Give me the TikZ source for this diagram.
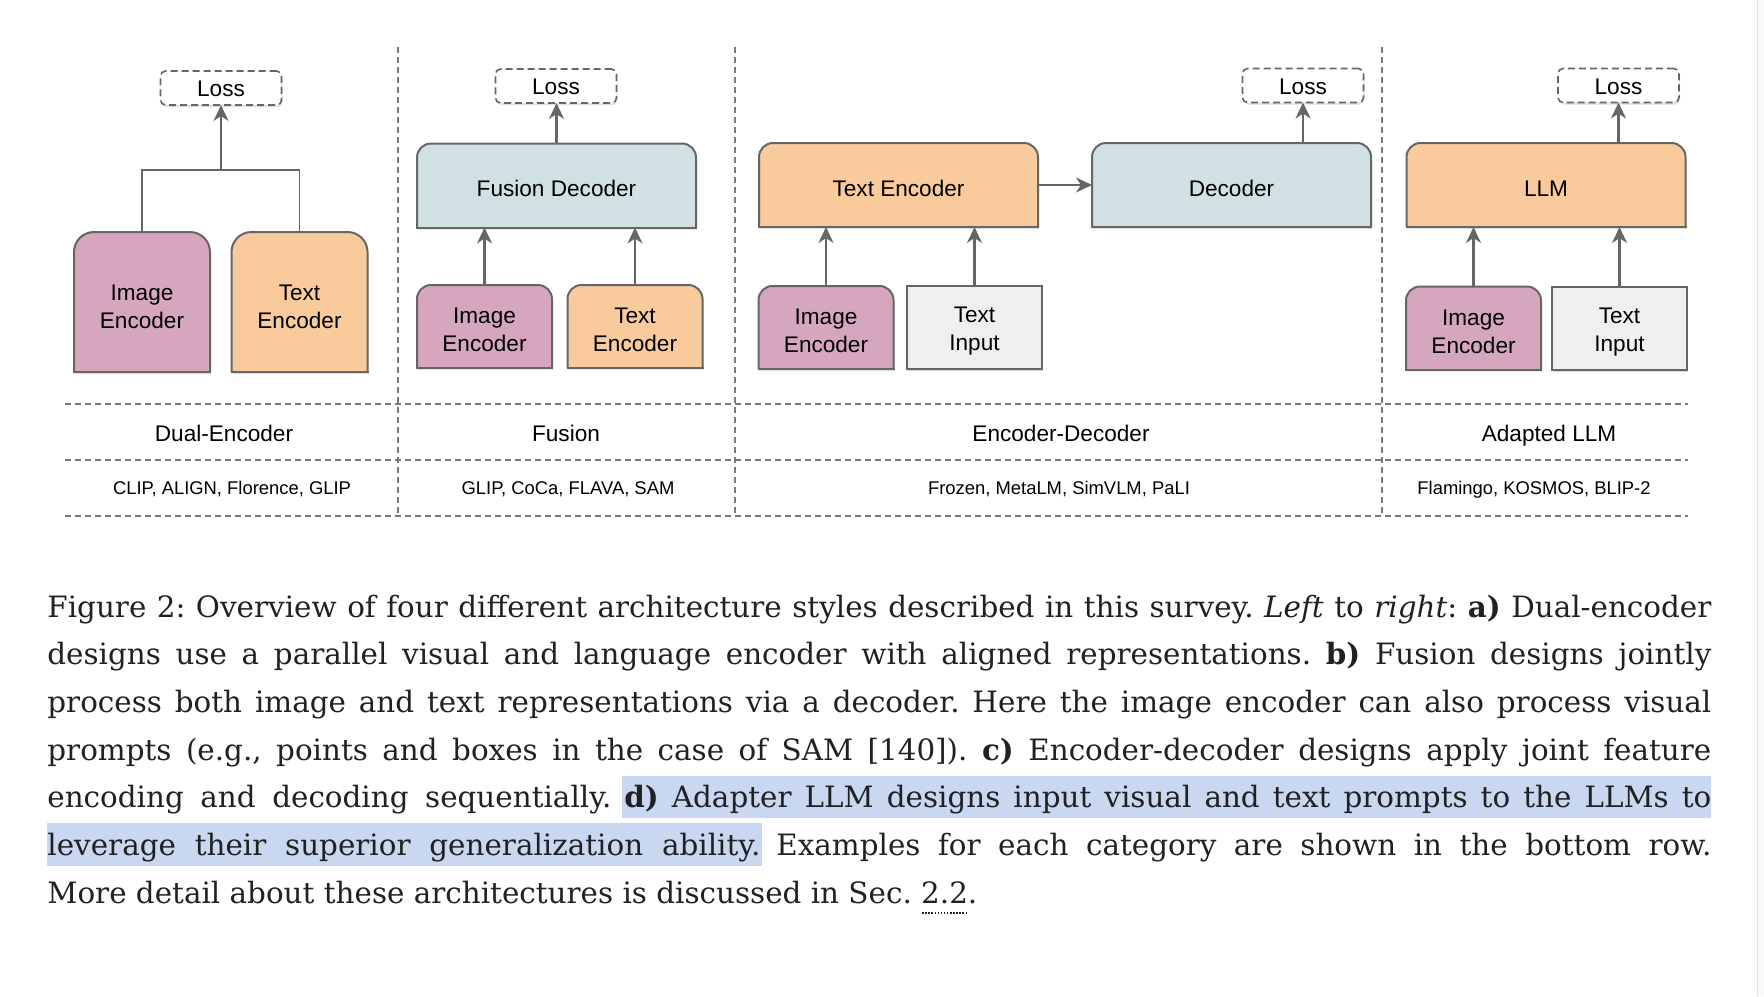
\documentclass[tikz,border=0pt]{standalone}
\usepackage{fontspec}
\setmainfont{DejaVu Serif}
\newfontfamily\arial{Liberation Sans}
\usetikzlibrary{arrows.meta,backgrounds,shadows}

\definecolor{pinkc}{HTML}{D5A6BD}
\definecolor{orangec}{HTML}{F9CB9C}
\definecolor{bluec}{HTML}{D0E0E3}
\definecolor{greyc}{HTML}{EFEFEF}
\definecolor{linec}{HTML}{666666}
\definecolor{sepc}{HTML}{7A7A7A}
\definecolor{markc}{RGB}{201,215,240}
\definecolor{capc}{HTML}{202124}

\tikzset{
  lbl/.style={font=\arial\fontsize{11.3}{14}\selectfont, align=center, inner sep=0pt, outer sep=0pt},
  catlbl/.style={lbl, text height=11.6pt, text depth=2.4pt},
  smalllbl/.style={font=\arial\fontsize{9.2}{11}\selectfont, inner sep=0pt, text height=7.8pt, text depth=2pt},
  tallbox/.style={lbl, text height=26.4pt, minimum width=68pt, minimum height=70pt},
  blk/.style={lbl, text height=25.6pt, minimum width=67.5pt, minimum height=41.5pt},
  widebox/.style={lbl, text height=11.2pt, minimum width=139.5pt, minimum height=42pt},
  shade/.style={drop shadow={shadow xshift=0.5pt, shadow yshift=-1.1pt, opacity=0.25}},
  lossbox/.style={lbl, text height=8.9pt, draw=linec, line width=0.8pt, dash pattern=on 3.5pt off 2pt,
    rounded corners=2.5pt, fill=white, minimum width=60.5pt, minimum height=17pt, shade},
  inbox/.style={blk, draw=linec, line width=1pt, fill=greyc, shade},
  arr/.style={draw=linec, line width=1.1pt, -{Stealth[length=8pt, width=7.5pt, inset=2.5pt]}},
  bracket/.style={draw=linec, line width=0.8pt},
  sepline/.style={draw=sepc, line width=0.7pt, dash pattern=on 3pt off 2pt},
  capline/.style={font=\fontsize{14.7}{18}\selectfont, text=capc, inner sep=0pt, anchor=base west},
}

% block with rounded top corners, drawn behind its node
\newcommand\roundtop[3][7pt]{%
  \begin{pgfonlayer}{background}
    \filldraw[draw=linec, line width=1pt, fill=#3, rounded corners=#1, shade]
      (#2.south west) -- (#2.north west) -- (#2.north east) -- (#2.south east);
    \draw[linec, line width=1pt, line cap=rect] (#2.south west) -- (#2.south east);
  \end{pgfonlayer}}

\newsavebox\refbox
\newcommand\dotref[1]{\sbox\refbox{#1}\rlap{\lower5pt\hbox to\wd\refbox{\xleaders\hbox to 1.5pt{\hss\vrule width 0.75pt height 0.4pt depth 0.4pt\hss}\hfill}}\usebox\refbox}

\begin{document}
\begin{tikzpicture}[x=0.5pt,y=-0.5pt]
\useasboundingbox (0,0) rectangle (1764,996);
\fill[gray!5] (1757,0) rectangle (1764,996);
\draw[gray!25, line width=0.5pt] (1757,0) -- (1757,996);

% a) dual encoder
\node[lossbox] (lossA) at (221,88) {Loss};
\node[tallbox] (imgA) at (142,302) {Image\\Encoder};
\node[tallbox] (txtA) at (299.5,302) {Text\\Encoder};
\roundtop[10pt]{imgA}{pinkc}
\roundtop[10pt]{txtA}{orangec}
\coordinate (jA) at (221,170);
\draw[bracket] (imgA.north) |- (jA) -| (txtA.north);
\draw[arr] (jA) -- (lossA.south);

% b) fusion
\node[lossbox] (lossB) at (556,86) {Loss};
\node[widebox] (fus) at (556.5,185.5) {Fusion Decoder};
\node[blk] (imgB) at (484.5,326.5) {Image\\Encoder};
\node[blk] (txtB) at (635,326.5) {Text\\Encoder};
\roundtop{fus}{bluec}
\roundtop{imgB}{pinkc}
\roundtop{txtB}{orangec}
\draw[arr] (imgB.north) -- (imgB.north |- fus.south);
\draw[arr] (txtB.north) -- (txtB.north |- fus.south);
\draw[arr] (fus.north) -- (fus.north |- lossB.south);

% c) encoder-decoder
\node[lossbox] (lossC) at (1303,85.5) {Loss};
\node[widebox] (encC) at (898.5,185) {Text Encoder};
\node[widebox] (decC) at (1231.5,185) {Decoder};
\node[blk] (imgC) at (826,327.5) {Image\\Encoder};
\node[inbox] (inC) at (974.5,327.5) {Text\\Input};
\roundtop{encC}{orangec}
\roundtop{decC}{bluec}
\roundtop{imgC}{pinkc}
\draw[arr] (imgC.north) -- (imgC.north |- encC.south);
\draw[arr] (inC.north) -- (inC.north |- encC.south);
\draw[arr] (encC.east) -- (decC.west);
\draw[arr] (lossC.south |- decC.north) -- (lossC.south);

% d) adapted LLM
\node[lossbox] (lossD) at (1618.5,85.5) {Loss};
\node[widebox] (llm) at (1546,185) {LLM};
\node[blk] (imgD) at (1473.5,328) {Image\\Encoder};
\node[inbox] (inD) at (1619.5,328) {Text\\Input};
\roundtop{llm}{orangec}
\roundtop{imgD}{pinkc}
\draw[arr] (imgD.north) -- (imgD.north |- llm.south);
\draw[arr] (inD.north) -- (inD.north |- llm.south);
\draw[arr] (lossD.south |- llm.north) -- (lossD.south);

% table
\foreach \x in {398,735,1382} \draw[sepline] (\x,47) -- (\x,516);
\foreach \y in {404,460,516} \draw[sepline] (65,\y) -- (1688,\y);
\node[catlbl] (catA) at (224,432) {Dual-Encoder};
\node[catlbl] (catB) at (566,432) {Fusion};
\node[catlbl] (catC) at (1061,432) {Encoder-Decoder};
\node[catlbl] (catD) at (1549,432) {Adapted LLM};
\node[smalllbl] (exA) at (232,489) {CLIP, ALIGN, Florence, GLIP};
\node[smalllbl] (exB) at (568,489) {GLIP, CoCa, FLAVA, SAM};
\node[smalllbl] (exC) at (1059,489) {Frozen, MetaLM, SimVLM, PaLI};
\node[smalllbl] (exD) at (1534,489) {Flamingo, KOSMOS, BLIP-2};

% caption
\frenchspacing
\fill[markc] (622,776) rectangle (1711,818);
\fill[markc] (47,823) rectangle (762,866);
\node[capline] (l1) at (47,617) {\makebox[832pt][s]{Figure 2: Overview of four different architecture styles described in this survey. \textit{Left} to \textit{right}: \textbf{a)} Dual-encoder}};
\node[capline] (l2) at (47,664.7) {\makebox[832pt][s]{designs use a parallel visual and language encoder with aligned representations. \textbf{b)} Fusion designs jointly}};
\node[capline] (l3) at (47,712.3) {\makebox[832pt][s]{process both image and text representations via a decoder. Here the image encoder can also process visual}};
\node[capline] (l4) at (47,760) {\makebox[832pt][s]{prompts (e.g., points and boxes in the case of SAM [140]). \textbf{c)} Encoder-decoder designs apply joint feature}};
\node[capline] (l5a) at (47,807.7) {\makebox[282pt][s]{encoding and decoding sequentially.}};
\node[capline] (l5b) at (624,807.7) {\makebox[543.5pt][s]{\textbf{d)} Adapter LLM designs input visual and text prompts to the LLMs to}};
\node[capline] (l6a) at (47,855.3) {\makebox[356.5pt][s]{leverage their superior generalization ability.}};
\node[capline] (l6b) at (776,855.3) {\makebox[467.5pt][s]{Examples for each category are shown in the bottom row.}};
\node[capline] (l7) at (47,903) {More detail about these architectures is discussed in Sec. \dotref{2.2}.};
\end{tikzpicture}
\end{document}
